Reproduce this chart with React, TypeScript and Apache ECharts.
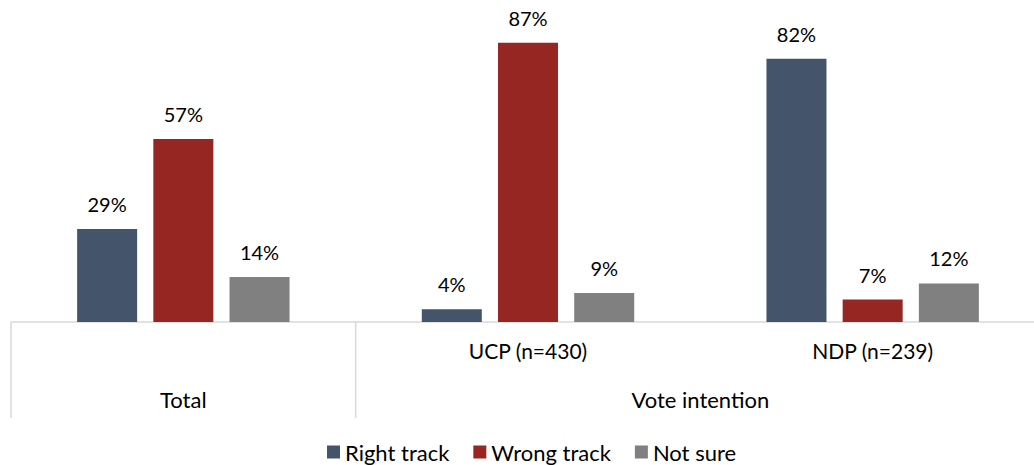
import React, { useEffect, useRef } from "react";
import * as echarts from "echarts";

const categories = ["Total", "UCP (n=430)", "NDP (n=239)"];
const seriesNames = ["Right track", "Wrong track", "Not sure"];
const rightTrack = [29, 4, 82];
const wrongTrack = [57, 87, 7];
const notSure = [14, 9, 12];
const groups = [
  { name: "Total", from: 0, to: 0 },
  { name: "Vote intention", from: 1, to: 2 },
];
const colors = ["#44546A", "#952622", "#808080"];
const FONT = "Lato";

export default function App() {
  const ref = useRef<HTMLDivElement>(null);
  useEffect(() => {
    if (!ref.current) return;
    const chart = echarts.init(ref.current, null, { renderer: "svg" });
    const values = [rightTrack, wrongTrack, notSure];
    chart.setOption({
      animation: false,
      textStyle: { fontFamily: FONT, color: "#000" },
      grid: { left: 11, top: 1, width: 1034, height: 321, outerBoundsMode: "none", containLabel: false },
      legend: {
        data: seriesNames,
        top: 436,
        left: 322,
        itemWidth: 13,
        itemHeight: 13,
        itemGap: 24,
        icon: "rect",
        textStyle: { fontFamily: FONT, fontSize: 22, color: "#000" },
      },
      xAxis: {
        type: "category",
        data: categories,
        axisLine: { lineStyle: { color: "#D9D9D9", width: 1.5 } },
        axisTick: { show: false },
        axisLabel: {
          fontFamily: FONT,
          fontSize: 21,
          color: "#000",
          margin: 18,
          formatter: (v: string) => (v === "Total" ? "" : v),
        },
      },
      yAxis: { type: "value", min: 0, max: 100, show: false, splitLine: { show: false } },
      series: seriesNames.map((name, i) => ({
        name,
        type: "bar",
        data: values[i],
        barWidth: 60,
        barGap: "27%",
        itemStyle: { color: colors[i] },
        label: {
          show: true,
          position: "top",
          distance: 15,
          formatter: "{c}%",
          fontFamily: FONT,
          fontSize: 20,
          color: "#000",
        },
      })),
    });
    const x0 = chart.convertToPixel({ xAxisIndex: 0 }, categories[0]) as number;
    const x1 = chart.convertToPixel({ xAxisIndex: 0 }, categories[1]) as number;
    const band = x1 - x0;
    const y0 = chart.convertToPixel({ yAxisIndex: 0 }, 0) as number;
    const cx = (i: number) => x0 + band * i;
    const elements: any[] = [];
    groups.forEach((g) => {
      const start = cx(g.from) - band / 2;
      const end = cx(g.to) + band / 2;
      elements.push({
        type: "line",
        shape: { x1: start, y1: y0, x2: start, y2: y0 + 96 },
        style: { stroke: "#D9D9D9", lineWidth: 1.5 },
      });
      elements.push({
        type: "text",
        x: (start + end) / 2,
        y: y0 + 77,
        style: {
          text: g.name,
          fontFamily: FONT,
          fontSize: 22,
          fill: "#000",
          align: "center",
          verticalAlign: "middle",
        },
      });
    });
    chart.setOption({ graphic: elements });
    return () => chart.dispose();
  }, []);
  return (
    <div
      ref={ref}
      style={{ position: "absolute", left: 0, top: 0, width: 1034, height: 465 }}
    />
  );
}
